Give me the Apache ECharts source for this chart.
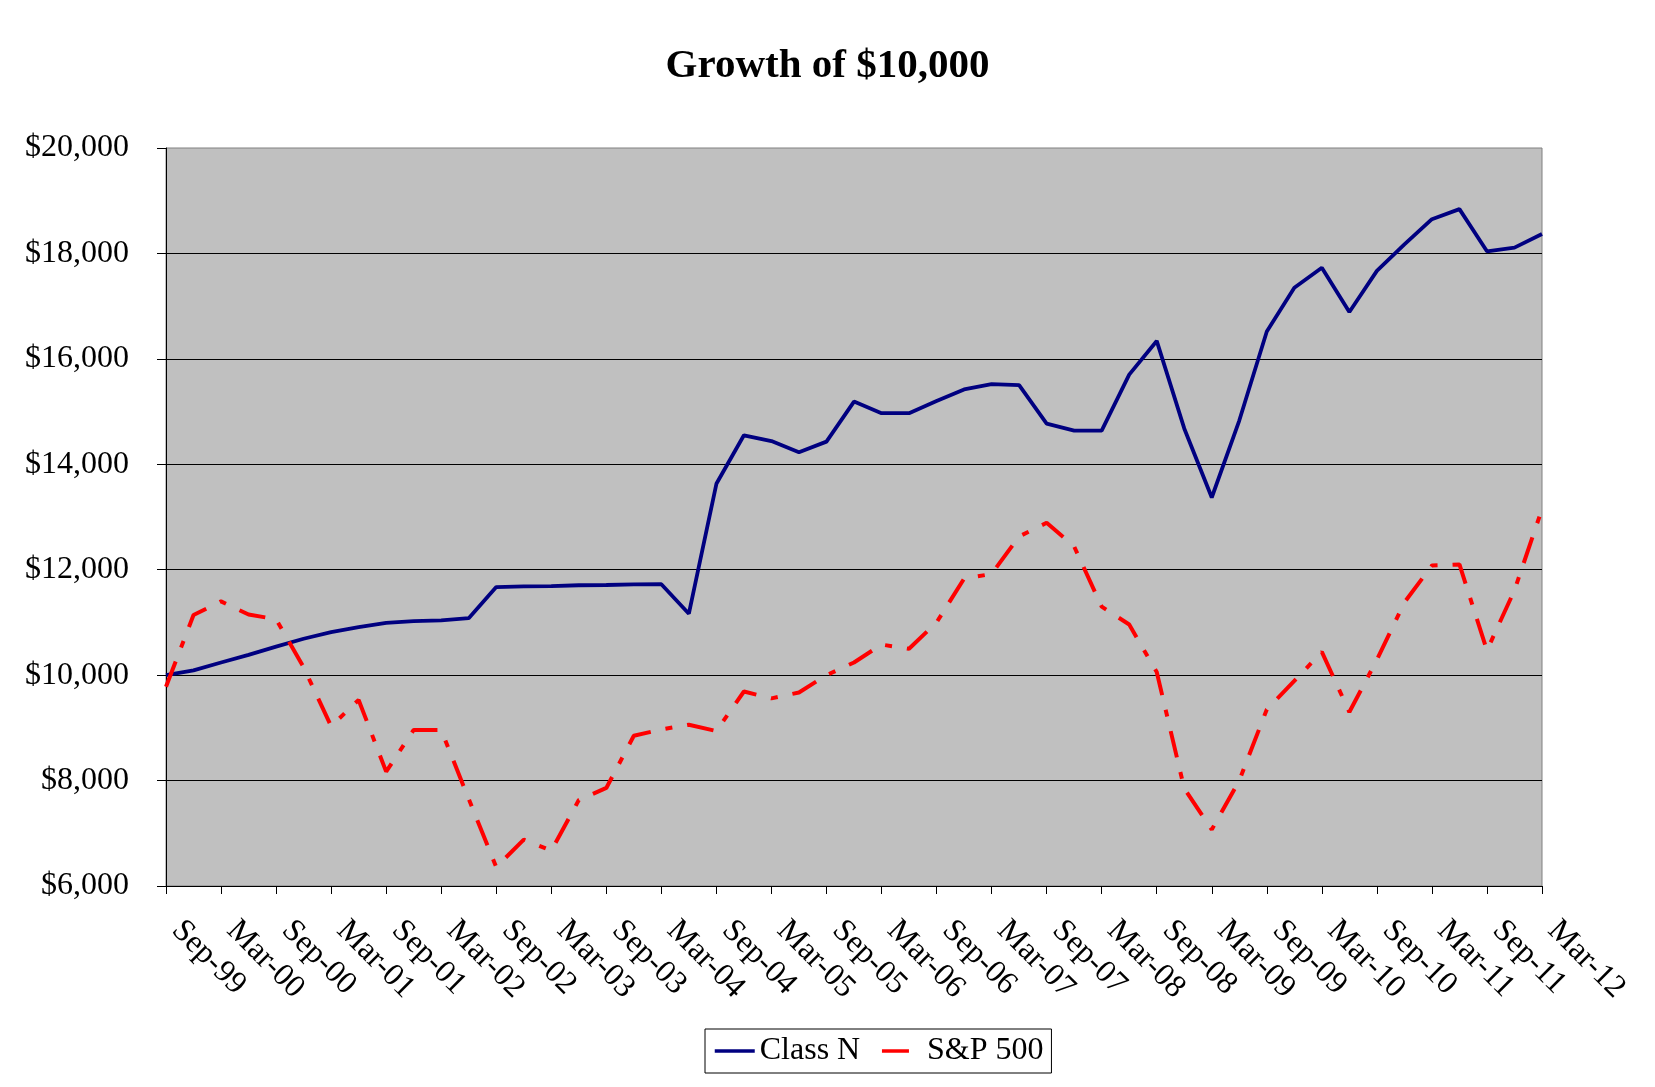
<!DOCTYPE html>
<html>
<head>
<meta charset="utf-8">
<title>Growth of $10,000</title>
<script src="https://cdn.jsdelivr.net/npm/echarts@6/dist/echarts.min.js"></script>
<style>
  html, body { margin: 0; padding: 0; background: #fff; }
  #main { width: 1655px; height: 1087px; }
</style>
</head>
<body>
<div id="main"></div>
<script>
// quarter ends, Sep-99 .. Mar-12
const quarters = [
  'Sep-99', 'Dec-99',
  'Mar-00', 'Jun-00', 'Sep-00', 'Dec-00',
  'Mar-01', 'Jun-01', 'Sep-01', 'Dec-01',
  'Mar-02', 'Jun-02', 'Sep-02', 'Dec-02',
  'Mar-03', 'Jun-03', 'Sep-03', 'Dec-03',
  'Mar-04', 'Jun-04', 'Sep-04', 'Dec-04',
  'Mar-05', 'Jun-05', 'Sep-05', 'Dec-05',
  'Mar-06', 'Jun-06', 'Sep-06', 'Dec-06',
  'Mar-07', 'Jun-07', 'Sep-07', 'Dec-07',
  'Mar-08', 'Jun-08', 'Sep-08', 'Dec-08',
  'Mar-09', 'Jun-09', 'Sep-09', 'Dec-09',
  'Mar-10', 'Jun-10', 'Sep-10', 'Dec-10',
  'Mar-11', 'Jun-11', 'Sep-11', 'Dec-11',
  'Mar-12'
]

const classN = [
  10000, 10090,
  10240, 10385, 10540, 10690,
  10815, 10910, 10990, 11025,
  11040, 11080, 11670, 11685,
  11690, 11705, 11710, 11720,
  11725, 11165, 13630, 14550,
  14440, 14230, 14430, 15190,
  14970, 14970, 15200, 15420,
  15520, 15500, 14770, 14640,
  14640, 15700, 16340, 14680,
  13370, 14830, 16520, 17350,
  17730, 16890, 17670, 18170,
  18650, 18840, 18040, 18110,
  18370
]

const sp500 = [
  9780, 11140,
  11400, 11150, 11060, 10150,
  9030, 9530, 8170, 8960,
  8960, 7650, 6360, 6880,
  6670, 7630, 7860, 8850,
  8970, 9060, 8940, 9690,
  9560, 9670, 10000, 10240,
  10580, 10500, 11000, 11830,
  11920, 12630, 12890, 12440,
  11300, 10960, 10060, 7850,
  7070, 8000, 9350, 9890,
  10440, 9300, 10290, 11380,
  12080, 12100, 10470, 11610,
  13150
]

const yMin = 6000
const yMax = 20000
const yStep = 2000

const serif = 'Liberation Serif'

const chart = echarts.init(document.getElementById('main'))

const option = {
  backgroundColor: '#fff',
  animation: false,
  title: {
    text: 'Growth of $10,000',
    left: 'center',
    top: 41,
    textStyle: {
      fontFamily: serif,
      fontSize: 41,
      fontWeight: 'bold',
      color: '#000'
    }
  },
  legend: {
    left: 705,
    top: 1029,
    padding: [6, 8],
    itemGap: 20,
    itemWidth: 40,
    itemHeight: 14,
    borderColor: '#000',
    borderWidth: 1,
    itemStyle: { opacity: 0 }, // only the line, no marker
    lineStyle: { width: 3.5 },
    textStyle: {
      fontFamily: serif,
      fontSize: 32,
      color: '#000'
    },
    data: ['Class N', 'S&P 500']
  },
  grid: {
    left: 166,
    right: 113,
    top: 148,
    bottom: 201,
    show: true,
    backgroundColor: '#C0C0C0',
    borderColor: '#808080',
    borderWidth: 1
  },
  xAxis: {
    type: 'category',
    boundaryGap: false,
    data: quarters,
    axisLine: { lineStyle: { color: '#000', width: 1 } },
    axisTick: {
      interval: 1,
      length: 8,
      lineStyle: { color: '#000' }
    },
    axisLabel: {
      interval: 1,
      rotate: -45,
      margin: 29,
      padding: [0, 0, 0, 15],
      fontFamily: serif,
      fontSize: 32,
      color: '#000'
    }
  },
  yAxis: {
    type: 'value',
    min: yMin,
    max: yMax,
    interval: yStep,
    axisLine: { show: true, lineStyle: { color: '#000', width: 1 } },
    axisTick: { show: true, length: 9, lineStyle: { color: '#000' } },
    axisLabel: {
      margin: 37,
      fontFamily: serif,
      fontSize: 32,
      color: '#000',
      formatter: function (v) {
        return '$' + v.toLocaleString('en-US')
      }
    },
    splitLine: {
      show: true,
      showMaxLine: false,
      lineStyle: { color: '#000', width: 1 }
    }
  },
  series: [
    {
      name: 'Class N',
      type: 'line',
      data: classN,
      symbol: 'none',
      lineStyle: { color: '#000080', width: 3.8 },
      itemStyle: { color: '#000080' }
    },
    {
      name: 'S&P 500',
      type: 'line',
      data: sp500,
      symbol: 'none',
      lineStyle: {
        color: '#FF0000',
        width: 4,
        type: [27, 15, 7, 15]
      },
      itemStyle: { color: '#FF0000' }
    }
  ]
}

chart.setOption(option)
</script>
</body>
</html>
